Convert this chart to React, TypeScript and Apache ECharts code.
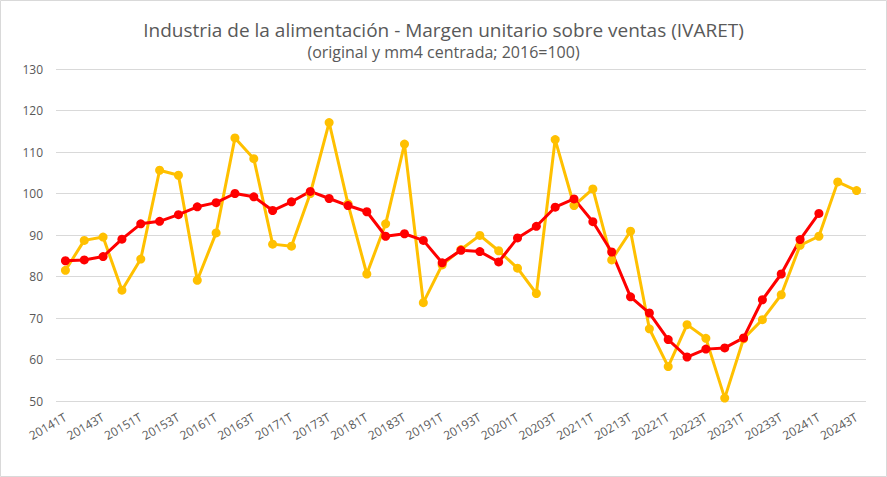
import React, { useEffect, useRef } from "react";
import * as echarts from "echarts";

const years = [2014, 2015, 2016, 2017, 2018, 2019, 2020, 2021, 2022, 2023, 2024];
const categories: string[] = [];
years.forEach((y) => {
  for (let q = 1; q <= 4; q++) {
    if (y === 2024 && q > 3) break;
    categories.push(`${y}${q}T`);
  }
});

const original = [
  81.5, 88.7, 89.5, 76.7, 84.2, 105.6, 104.4, 79.1, 90.5, 113.4, 108.4, 87.8, 87.3, 100.0,
  117.1, 97.5, 80.6, 92.7, 111.9, 73.7, 82.8, 86.5, 89.9, 86.2, 82.0, 75.9, 113.0, 97.1,
  101.1, 84.0, 90.9, 67.4, 58.3, 68.4, 65.1, 50.7, 65.0, 69.6, 75.6, 87.5, 89.7, 102.8, 100.7,
];

const mm4 = [
  83.8, 84.0, 84.8, 89.0, 92.7, 93.3, 94.9, 96.8, 97.8, 100.0, 99.2, 95.9, 98.0, 100.5,
  98.8, 97.1, 95.6, 89.7, 90.3, 88.7, 83.3, 86.3, 86.0, 83.5, 89.3, 92.1, 96.7, 98.7,
  93.2, 85.9, 75.1, 71.2, 64.8, 60.6, 62.5, 62.8, 65.2, 74.4, 80.6, 88.9, 95.2, null, null,
];

const titleText = "Industria de la alimentación - Margen unitario sobre ventas (IVARET)";
const subtitleText = "(original y mm4 centrada; 2016=100)";

export default function App() {
  const ref = useRef<HTMLDivElement>(null);
  useEffect(() => {
    if (!ref.current) return;
    const chart = echarts.init(ref.current, undefined, { renderer: "svg" });
    chart.setOption({
      animation: false,
      backgroundColor: "#ffffff",
      textStyle: { fontFamily: "Open Sans" },
      title: [
        {
          text: titleText,
          left: "center",
          top: 15,
          textStyle: { fontSize: 19, fontWeight: "normal", color: "#595959", fontFamily: "Open Sans" },
        },
        {
          text: subtitleText,
          left: "center",
          top: 39,
          textStyle: { fontSize: 16, fontWeight: "normal", color: "#595959", fontFamily: "Open Sans" },
        },
      ],
      graphic: [
        {
          type: "rect",
          shape: { x: 0.5, y: 0.5, width: 886, height: 476 },
          style: { fill: "none", stroke: "#d9d9d9", lineWidth: 1 },
          silent: true,
        },
      ],
      grid: { left: 56, right: 21, top: 69, bottom: 76 },
      xAxis: {
        type: "category",
        data: categories,
        boundaryGap: true,
        axisLine: { show: false },
        axisTick: { show: false },
        axisLabel: {
          interval: 1,
          rotate: 30,
          color: "#595959",
          fontSize: 12,
          fontFamily: "Open Sans",
          margin: 15,
        },
      },
      yAxis: {
        type: "value",
        min: 50,
        max: 130,
        interval: 10,
        axisLine: { show: false },
        axisTick: { show: false },
        axisLabel: { color: "#595959", fontSize: 12, fontFamily: "Open Sans", margin: 13 },
        splitLine: { lineStyle: { color: "#d9d9d9", width: 1 } },
      },
      series: [
        {
          name: "original",
          type: "line",
          data: original,
          symbol: "circle",
          symbolSize: 9,
          lineStyle: { color: "#FFC000", width: 3 },
          itemStyle: { color: "#FFC000" },
        },
        {
          name: "mm4 centrada",
          type: "line",
          data: mm4,
          symbol: "circle",
          symbolSize: 9,
          lineStyle: { color: "#FF0000", width: 3 },
          itemStyle: { color: "#FF0000" },
        },
      ],
    });
    return () => chart.dispose();
  }, []);
  return (
    <div
      ref={ref}
      style={{ position: "fixed", left: 0, top: 0, width: 887, height: 477 }}
    />
  );
}
